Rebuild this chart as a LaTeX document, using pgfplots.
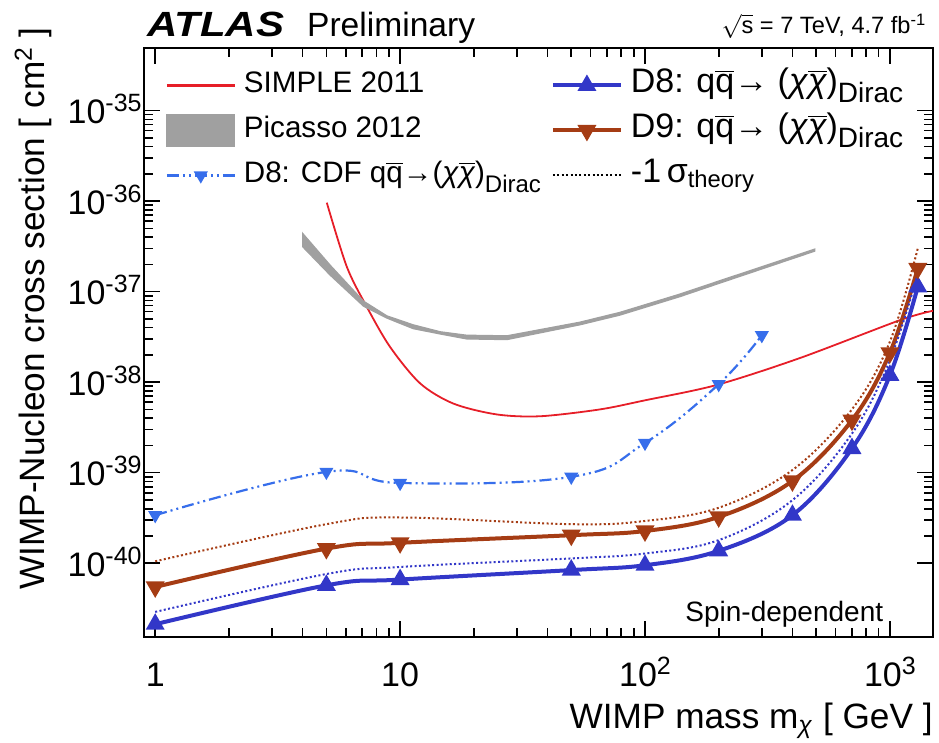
\documentclass[border=0pt]{standalone}
\usepackage{fontspec}
\setmainfont{Liberation Sans}
\usepackage{pgfplots}
\pgfplotsset{compat=1.18}
\usetikzlibrary{calc}

\definecolor{simplered}{RGB}{230,30,40}
\definecolor{picassogray}{RGB}{160,160,160}
\definecolor{cdfblue}{RGB}{55,110,235}
\definecolor{dEblue}{RGB}{50,55,200}
\definecolor{dNbrown}{RGB}{165,60,20}

\newcommand{\qbar}{$\overline{\mbox{q}}$}
\newcommand{\chib}{$\overline{\mbox{\itshape χ}}$}
\newcommand{\sups}[1]{\raisebox{6pt}{\fontsize{12.5}{14}\selectfont #1}}
\newcommand{\dirac}[1]{\raisebox{-5pt}{\fontsize{#1}{14}\selectfont Dirac}}

% 1 px of the reference = 0.5pt
\begin{document}
\begin{tikzpicture}
\begin{axis}[
    xmode=log, ymode=log, clip=false,
    width=394.5pt, height=294.5pt, scale only axis,
    xmin=0.9, xmax=1500, ymin=1.53e-41, ymax=4.9e-35,
    axis line style={line width=1pt},
    major tick length=8pt, minor tick length=4.5pt,
    every tick/.style={black, line width=0.8pt},
    xtick={1,10,100,1000},
    xticklabels={1,10,10\sups{2},10\sups{3}},
    ytick={1e-40,1e-39,1e-38,1e-37,1e-36,1e-35},
    yticklabels={10\sups{-40},10\sups{-39},10\sups{-38},10\sups{-37},10\sups{-36},10\sups{-35}},
    ticklabel style={font=\fontsize{17}{20}\selectfont},
    xticklabel style={anchor=base, yshift=-24.5pt, inner sep=0pt},
    yticklabel style={anchor=base east, yshift=-6.5pt, xshift=-1pt, inner sep=0pt},
    xlabel={WIMP mass m\textsubscript{\textit{χ}} [ GeV ]},
    ylabel={WIMP-Nucleon cross section [ cm\textsuperscript{2} ]},
    label style={font=\fontsize{17.6}{20}\selectfont},
    xlabel style={at={(axis description cs:1,-0.1545)}, anchor=base east, inner sep=0pt},
    ylabel style={at={(axis description cs:-0.1166,1.036)}, anchor=south east, inner sep=0pt},
    legend image code/.code={\draw[mark repeat=2,mark phase=2,#1] plot coordinates {(0pt,0pt) (17pt,0pt) (34pt,0pt)};},
    legend style={at={(axis description cs:0.027,0.966)}, anchor=north west,
        draw=none, fill=none, inner sep=0pt,
        font=\fontsize{14.8}{17}\selectfont,
        nodes={inner sep=1pt, text height=11pt, text depth=4pt},
        row sep=5.5pt,
        /tikz/every odd column/.append style={column sep=3pt},
        /tikz/column 2/.style={column sep=4pt}},
    legend columns=3, transpose legend, legend cell align=left,
]

% SIMPLE 2011
\addplot[color=simplered, line width=0.9pt, smooth,
  legend image code/.code={\draw[simplered, line width=1.1pt] (0pt,0pt) -- (34pt,0pt);}]
  coordinates {
  (5.02,9.6e-37) (6.06,1.88e-37) (7.31,6.8e-38) (9.1,2.45e-38) (12.07,9.7e-39)
  (16.5,5.8e-39) (24.8,4.4e-39) (37.3,4.2e-39) (65.5,5.0e-39) (100,6.3e-39)
  (196,9.3e-39) (430,1.85e-38) (1100,4.84e-38) (1500,6.14e-38)
};
\addlegendentry{SIMPLE 2011}

% Picasso 2012 band
\addplot[fill=picassogray, draw=picassogray, line width=0.6pt,
  legend image code/.code={\fill[picassogray] (0pt,-8pt) rectangle (34pt,8pt);}]
  coordinates {
  (4,4.4e-37) (5.18,1.96e-37) (7.09,7.85e-38) (8.83,5.4e-38) (11.3,4.3e-38)
  (14.6,3.6e-38) (18.7,3.3e-38) (27.3,3.25e-38) (54.3,4.6e-38) (79,5.9e-38)
  (139,9.4e-38) (202,1.32e-37) (494,2.95e-37)
  (494,2.8e-37) (202,1.24e-37) (139,8.8e-38) (79,5.5e-38) (54.3,4.3e-38)
  (27.3,2.95e-38) (18.7,3.0e-38) (14.6,3.4e-38) (11.3,3.9e-38) (8.83,5.1e-38)
  (7.09,6.9e-38) (5.18,1.52e-37) (4,3.13e-37)
} -- cycle;
\addlegendentry{Picasso 2012}

% D8: CDF
\addplot[cdfblue, line width=1.1pt, smooth, tension=0.7,
  dash pattern=on 6pt off 2pt on 1pt off 2pt on 1pt off 2pt,
  mark=triangle*, mark size=3pt, mark options={solid, rotate=180}] coordinates {
  (1,3.39e-40) (5,1.02e-39) (10,7.7e-40) (50,9.0e-40) (100,2.13e-39)
  (200,9.5e-39) (300,3.3e-38)
};
\addlegendentry{D8: CDF q\qbar→(\textit{χ}\chib)\dirac{12}}

% D8
\addplot[dEblue, line width=2pt, smooth, tension=0.6, mark=triangle*, mark size=3.5pt] coordinates {
  (1,2.12e-41) (5,5.7e-41) (10,6.6e-41) (50,8.4e-41) (100,9.5e-41)
  (200,1.37e-40) (400,3.39e-40) (700,1.85e-39) (1000,1.19e-38) (1300,1.13e-37)
};
\addlegendentry{\fontsize{17}{19}\selectfont D8: q\qbar→ (\textit{χ}\chib)\dirac{14}}

% D9
\addplot[dNbrown, line width=2pt, smooth, tension=0.6, mark=triangle*, mark size=3.5pt,
  mark options={rotate=180}] coordinates {
  (1,5.47e-41) (5,1.45e-40) (10,1.68e-40) (50,2.04e-40) (100,2.27e-40)
  (200,3.25e-40) (400,8.1e-40) (700,3.8e-39) (1000,2.11e-38) (1300,1.8e-37)
};
\addlegendentry{\fontsize{17}{19}\selectfont D9: q\qbar→ (\textit{χ}\chib)\dirac{14}}

% -1 sigma theory
\addplot[dEblue, line width=1pt, smooth, tension=0.6, dash pattern=on 1pt off 1.2pt, forget plot] coordinates {
  (1,2.9e-41) (5,7.6e-41) (10,9.1e-41) (50,1.13e-40) (100,1.28e-40)
  (200,1.8e-40) (400,4.97e-40) (700,2.7e-39) (1000,1.75e-38) (1300,1.55e-37)
};
\addplot[dNbrown, line width=1pt, smooth, tension=0.6, dash pattern=on 1pt off 1.2pt, forget plot] coordinates {
  (1,1.05e-40) (5,2.7e-40) (10,3.2e-40) (50,2.7e-40) (100,2.93e-40)
  (200,4.1e-40) (400,1.07e-39) (700,5.0e-39) (1000,2.8e-38) (1300,3.0e-37)
};
\addlegendimage{black, line width=1pt, dash pattern=on 1pt off 1.2pt}
\addlegendentry{\fontsize{17}{19}\selectfont -1\,σ\textsubscript{theory}}

\node[anchor=base west, inner sep=0pt, font=\fontsize{14}{16}\selectfont]
  at (axis description cs:0.6857,0.026) {Spin-dependent};
\node[anchor=base west, inner sep=0pt, xscale=1.2, font=\fontsize{17.5}{19}\selectfont\bfseries\itshape]
  at (axis description cs:0.0034,1.0192) {ATLAS};
\node[anchor=base west, inner sep=0pt, font=\fontsize{16.8}{18}\selectfont]
  at (axis description cs:0.2062,1.0192) {Preliminary};
\node[anchor=base east, inner sep=0pt, font=\fontsize{11.8}{14}\selectfont]
  at (axis description cs:0.992,1.024) {$\sqrt{\mbox{s}}$ = 7 TeV, 4.7 fb\textsuperscript{-1}};
\end{axis}
\pgfresetboundingbox
\path[use as bounding box] ($(current axis.south west)+(-72pt,-52.5pt)$) rectangle ($(current axis.north east)+(3pt,24pt)$);
\end{tikzpicture}
\end{document}
